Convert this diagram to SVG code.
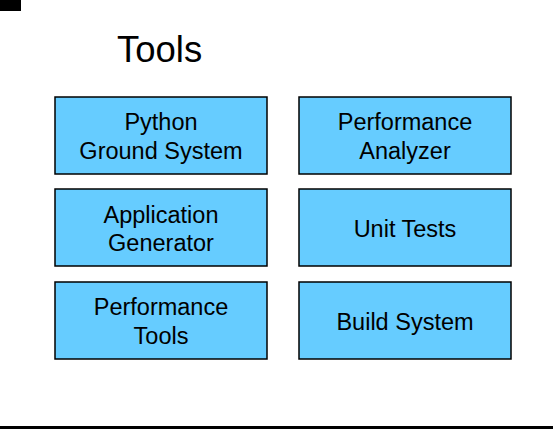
<svg xmlns="http://www.w3.org/2000/svg" width="553" height="429" viewBox="0 0 553 429">
  <style>
    .box { fill: #66CCFF; stroke: #000; stroke-width: 1.5; }
    .lbl { font-family: "Liberation Sans", Arial, sans-serif; font-size: 23.5px; fill: #000; text-anchor: middle; }
    .title { font-family: "Liberation Sans", Arial, sans-serif; font-size: 36.5px; fill: #000; }
  </style>
  <rect x="0" y="0" width="553" height="429" fill="#fff"/>
  <!-- corner mark and bottom rule -->
  <rect x="0" y="0" width="21" height="11" fill="#000"/>
  <rect x="0" y="426" width="553" height="3" fill="#000"/>
  <text class="title" x="117" y="62">Tools</text>
  <g id="python-ground-system">
    <rect class="box" x="55" y="97" width="212" height="77"/>
    <text class="lbl" x="161" y="130">Python</text>
    <text class="lbl" x="161" y="158.5">Ground System</text>
  </g>
  <g id="performance-analyzer">
    <rect class="box" x="299" y="97" width="212" height="77"/>
    <text class="lbl" x="405" y="130">Performance</text>
    <text class="lbl" x="405" y="158.5">Analyzer</text>
  </g>
  <g id="application-generator">
    <rect class="box" x="55" y="189" width="212" height="77"/>
    <text class="lbl" x="161" y="222.5">Application</text>
    <text class="lbl" x="161" y="251">Generator</text>
  </g>
  <g id="unit-tests">
    <rect class="box" x="299" y="189" width="212" height="77"/>
    <text class="lbl" x="405" y="237">Unit Tests</text>
  </g>
  <g id="performance-tools">
    <rect class="box" x="55" y="282" width="212" height="77"/>
    <text class="lbl" x="161" y="315">Performance</text>
    <text class="lbl" x="161" y="343.5">Tools</text>
  </g>
  <g id="build-system">
    <rect class="box" x="299" y="282" width="212" height="77"/>
    <text class="lbl" x="405" y="330">Build System</text>
  </g>
  <g id="connectors"/>
</svg>
